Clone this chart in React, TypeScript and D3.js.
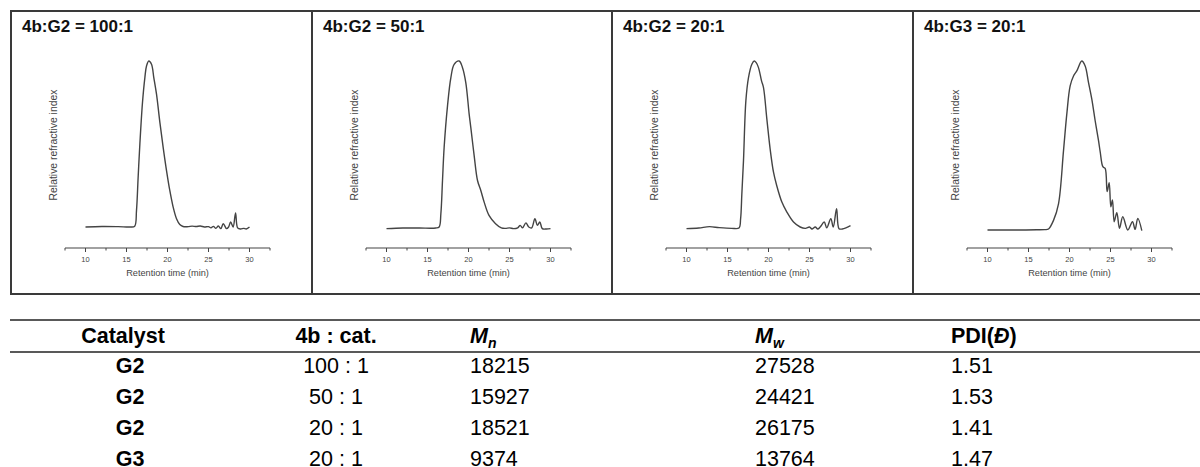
import React from "react";
import * as d3 from "d3";

const width = 1200;
const height = 467;

// GPC traces: [retention time (min), relative RI signal]
const traceG2_100: [number, number][] = [
  [10, 0], [12, 0.003], [14, 0.002], [15.5, 0], [16.0, 0.005], [16.22, 0.1],
  [16.42, 0.3], [16.63, 0.5], [16.95, 0.75], [17.24, 0.9], [17.44, 0.97],
  [17.72, 1.0], [18.05, 0.98], [18.33, 0.9], [18.66, 0.8], [19.07, 0.63],
  [19.47, 0.48], [19.88, 0.34], [20.28, 0.22], [20.69, 0.12], [21.1, 0.05],
  [21.5, 0.015], [21.9, 0.003], [22.5, 0.002], [23, 0.005], [23.5, 0.003],
  [24, 0.006], [24.5, 0.0], [25, 0.002], [25.3, -0.005], [25.6, 0.004],
  [25.9, -0.008], [26.2, 0.006], [26.5, -0.01], [26.8, 0.02], [27.2, -0.01],
  [27.45, 0.0], [27.7, 0.03], [28.0, 0.0], [28.3, 0.085], [28.55, -0.005],
  [28.9, -0.012], [29.3, -0.008], [29.6, -0.012], [30, 0.0],
];

const traceG2_50: [number, number][] = [
  [10, -0.01], [12, -0.006], [14, -0.006], [16, -0.006], [16.42, 0.0],
  [16.63, 0.08], [16.83, 0.28], [17.03, 0.48], [17.44, 0.73], [17.85, 0.9],
  [18.25, 0.98], [18.86, 1.0], [19.27, 0.96], [19.67, 0.87], [20.08, 0.68],
  [20.28, 0.6], [20.69, 0.43], [21.1, 0.28], [21.5, 0.22], [21.91, 0.15],
  [22.5, 0.07], [23.3, 0.02], [24.0, -0.005], [24.5, -0.008], [25, -0.005],
  [25.5, -0.01], [26, -0.005], [26.3, 0.01], [26.6, -0.005], [27.0, 0.025],
  [27.35, 0.0], [27.7, -0.005], [28.1, 0.05], [28.4, 0.01], [28.7, 0.03],
  [29.0, -0.01], [29.5, -0.012], [30, -0.01],
];

const traceG2_20: [number, number][] = [
  [10, -0.01], [11.5, -0.006], [12.8, 0.002], [14, -0.004], [15.5, -0.008],
  [16.4, -0.006], [16.6, 0.05], [16.75, 0.2], [16.95, 0.4], [17.24, 0.76],
  [17.56, 0.9], [17.97, 0.98], [18.25, 1.0], [18.5, 0.99], [18.78, 0.96],
  [19.15, 0.88], [19.39, 0.84], [19.8, 0.65], [20.2, 0.47], [20.61, 0.33],
  [21.0, 0.25], [21.63, 0.15], [22.24, 0.09], [23.05, 0.03], [23.86, 0.0],
  [24.5, -0.008], [25, 0.0], [25.3, -0.012], [25.7, 0.0], [26.0, -0.012],
  [26.3, 0.0], [26.8, 0.03], [27.1, -0.005], [27.6, 0.05], [27.9, 0.0],
  [28.3, 0.11], [28.6, -0.01], [29.0, -0.012], [29.5, -0.004], [30, 0.008],
];

const traceG3_20: [number, number][] = [
  [10, -0.018], [12, -0.018], [14, -0.018], [16, -0.017], [17, -0.016],
  [17.44, -0.012], [18.05, 0.04], [18.66, 0.14], [19.27, 0.46], [19.67, 0.68],
  [20.08, 0.85], [20.49, 0.91], [20.89, 0.94], [21.5, 1.0], [21.91, 0.97],
  [22.32, 0.87], [22.72, 0.77], [23.13, 0.64], [23.54, 0.52], [23.74, 0.454],
  [24.07, 0.363], [24.35, 0.353], [24.59, 0.213], [24.84, 0.267],
  [25.04, 0.122], [25.24, 0.163], [25.45, 0.032], [25.77, 0.086],
  [26.1, -0.008], [26.5, 0.062], [27.11, -0.018], [27.68, 0.032],
  [28.0, -0.014], [28.33, 0.052], [28.82, -0.022],
];

const panelTitles = ["4b:G2 = 100:1", "4b:G2 = 50:1", "4b:G2 = 20:1", "4b:G3 = 20:1"];
const traces = [traceG2_100, traceG2_50, traceG2_20, traceG3_20];
const majorTicks = [10, 15, 20, 25, 30];
const minorTicks = [7.5, 12.5, 17.5, 22.5, 27.5, 32.5];

// table
const headers = ["Catalyst", "4b : cat."];
const catalysts = ["G2", "G2", "G2", "G3"];
const ratios = ["100 : 1", "50 : 1", "20 : 1", "20 : 1"];
const mnValues = [18215, 15927, 18521, 9374];
const mwValues = [27528, 24421, 26175, 13764];
const pdiValues = ["1.51", "1.53", "1.41", "1.47"];

const panelLefts = [11, 312, 612, 913];
const panelTop = 11;
const panelBottom = 294;

const font = "Arial, 'Liberation Sans', Helvetica, sans-serif";
const ink = "#3a3a3a";

const x = d3.scaleLinear().domain([7.5, 32.5]).range([54, 259]);
const y = d3.scaleLinear().domain([0, 1]).range([216, 50]);
const line = d3
  .line<[number, number]>()
  .x((d) => x(d[0]))
  .y((d) => y(d[1]))
  .curve(d3.curveCatmullRom.alpha(0.5));

const axisY = 237;

const Panel = ({ left, title, data }: { left: number; title: string; data: [number, number][] }) => (
  <g transform={`translate(${left}, ${panelTop})`}>
    <text x={11} y={21} fontSize={17} fontWeight="bold" fill="#111" fontFamily={font}>
      {title}
    </text>
    <path d={line(data) || ""} fill="none" stroke="#444" strokeWidth={1.4} />
    <line x1={x(7.5)} x2={x(32.5)} y1={axisY} y2={axisY} stroke="#444" strokeWidth={1.1} />
    {majorTicks.map((t) => (
      <g key={t}>
        <line x1={x(t)} x2={x(t)} y1={axisY} y2={axisY + 4} stroke="#444" strokeWidth={1} />
        <text x={x(t)} y={axisY + 14} fontSize={7.5} textAnchor="middle" fill="#444" fontFamily={font}>
          {t}
        </text>
      </g>
    ))}
    {minorTicks.map((t) => (
      <line key={t} x1={x(t)} x2={x(t)} y1={axisY} y2={axisY + 2.5} stroke="#444" strokeWidth={1} />
    ))}
    <text
      x={(x(7.5) + x(32.5)) / 2}
      y={axisY + 28}
      fontSize={9.2}
      textAnchor="middle"
      fill="#444"
      fontFamily={font}
    >
      Retention time (min)
    </text>
    <text
      transform={`translate(46, 134) rotate(-90)`}
      fontSize={10.4}
      textAnchor="middle"
      fill="#444"
      fontFamily={font}
    >
      Relative refractive index
    </text>
  </g>
);

const colCatalyst = 123;
const colRatio = 336;
const colMn = 470;
const colMw = 755;
const colPdi = 951;
const headerBaseline = 343;
const rowBaselines = [373, 404, 435, 466];

export default function App() {
  return (
    <svg width={width} height={height} style={{ display: "block", position: "absolute", left: 0, top: 0 }}>
      <rect width={width} height={height} fill="#fff" />
      {/* frame around the four GPC panels */}
      <line x1={10} x2={width} y1={panelTop} y2={panelTop} stroke={ink} strokeWidth={2} />
      <line x1={10} x2={width} y1={panelBottom} y2={panelBottom} stroke={ink} strokeWidth={2} />
      {panelLefts.map((l) => (
        <line key={l} x1={l} x2={l} y1={panelTop} y2={panelBottom} stroke={ink} strokeWidth={2} />
      ))}
      {panelLefts.map((l, i) => (
        <Panel key={i} left={l} title={panelTitles[i]} data={traces[i]} />
      ))}

      {/* table */}
      <line x1={10} x2={width} y1={320} y2={320} stroke="#222" strokeWidth={1.4} />
      <line x1={10} x2={width} y1={352} y2={352} stroke="#222" strokeWidth={1.4} />
      <g fontFamily={font} fontSize={21.5} fill="#000">
        <text x={colCatalyst} y={headerBaseline} textAnchor="middle" fontWeight="bold">
          {headers[0]}
        </text>
        <text x={colRatio} y={headerBaseline} textAnchor="middle" fontWeight="bold">
          {headers[1]}
        </text>
        <text x={colMn} y={headerBaseline} fontWeight="bold" fontStyle="italic">
          M<tspan fontSize={14} dy={5}>n</tspan>
        </text>
        <text x={colMw} y={headerBaseline} fontWeight="bold" fontStyle="italic">
          M<tspan fontSize={14} dy={5}>w</tspan>
        </text>
        <text x={colPdi} y={headerBaseline} fontWeight="bold">
          PDI(<tspan fontStyle="italic">Đ</tspan>)
        </text>
        {catalysts.map((c, i) => (
          <g key={i}>
            <text x={colCatalyst + 7} y={rowBaselines[i]} textAnchor="middle" fontWeight="bold">
              {c}
            </text>
            <text x={colRatio} y={rowBaselines[i]} textAnchor="middle">
              {ratios[i]}
            </text>
            <text x={colMn} y={rowBaselines[i]}>{mnValues[i]}</text>
            <text x={colMw} y={rowBaselines[i]}>{mwValues[i]}</text>
            <text x={colPdi} y={rowBaselines[i]}>{pdiValues[i]}</text>
          </g>
        ))}
      </g>
    </svg>
  );
}
